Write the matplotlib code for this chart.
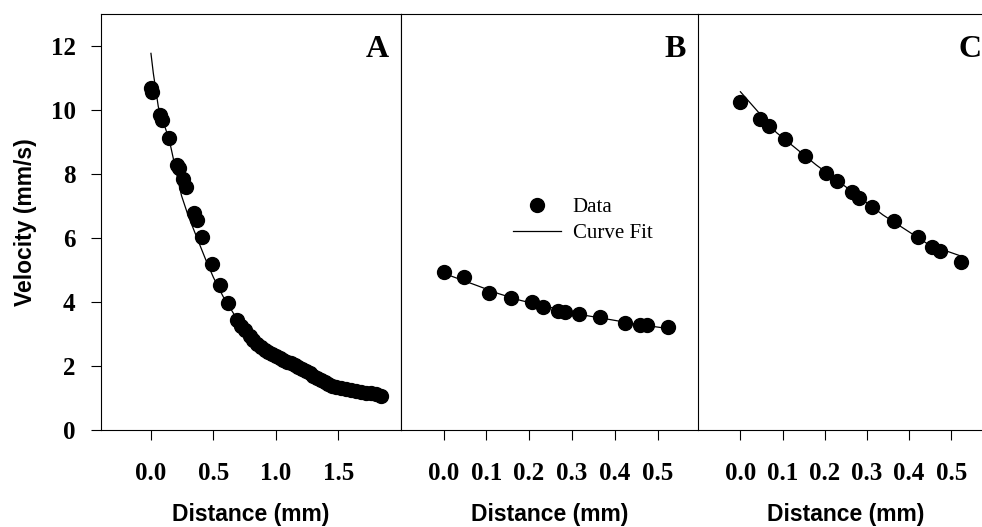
import matplotlib
matplotlib.use("Agg")
import matplotlib.pyplot as plt
from matplotlib.lines import Line2D

# ---- Panel A: velocity vs distance ----
dist_a = [0.000, 0.012, 0.072, 0.088, 0.142, 0.212, 0.224, 0.256, 0.283, 0.346, 0.368,
          0.410, 0.487, 0.552, 0.615, 0.690, 0.725, 0.757, 0.790, 0.820, 0.850, 0.880,
          0.910, 0.940, 0.970, 1.000, 1.030, 1.060, 1.090, 1.120, 1.150, 1.180, 1.210,
          1.240, 1.270, 1.300, 1.330, 1.360, 1.390, 1.420, 1.450, 1.480, 1.520, 1.560,
          1.600, 1.640, 1.680, 1.720, 1.760, 1.800, 1.845]
vel_a = [10.68, 10.55, 9.85, 9.69, 9.12, 8.28, 8.18, 7.83, 7.58, 6.77, 6.56,
         6.02, 5.20, 4.53, 3.97, 3.45, 3.25, 3.12, 2.95, 2.82, 2.70, 2.60,
         2.50, 2.43, 2.37, 2.30, 2.24, 2.19, 2.13, 2.08, 2.03, 1.98, 1.92,
         1.85, 1.78, 1.70, 1.62, 1.55, 1.49, 1.43, 1.38, 1.34, 1.30, 1.27,
         1.24, 1.21, 1.19, 1.17, 1.15, 1.12, 1.06]
fit_dist_a = [0.000, 0.019, 0.059, 0.147, 0.205, 0.245, 0.298, 0.365, 0.440, 0.500,
              0.578, 0.660, 0.740, 0.830, 0.930, 1.030, 1.120, 1.210, 1.300, 1.390,
              1.480, 1.590, 1.700, 1.800, 1.845]
fit_vel_a = [11.77, 11.15, 10.10, 9.06, 8.02, 7.32, 6.70, 6.04, 5.31, 4.77,
             4.17, 3.65, 3.15, 2.75, 2.45, 2.22, 2.06, 1.90, 1.68, 1.48,
             1.34, 1.24, 1.16, 1.11, 1.07]

# ---- Panel B ----
dist_b = [0.000, 0.048, 0.106, 0.157, 0.207, 0.233, 0.267, 0.283, 0.316, 0.365,
          0.424, 0.458, 0.476, 0.525]
vel_b = [4.95, 4.78, 4.27, 4.13, 4.00, 3.84, 3.72, 3.68, 3.63, 3.53,
         3.35, 3.29, 3.28, 3.22]
fit_dist_b = [0.000, 0.020, 0.075, 0.129, 0.180, 0.260, 0.332, 0.394, 0.450, 0.525]
fit_vel_b = [4.92, 4.80, 4.53, 4.26, 4.05, 3.80, 3.58, 3.44, 3.31, 3.17]

# ---- Panel C ----
dist_c = [0.000, 0.047, 0.067, 0.105, 0.153, 0.204, 0.230, 0.264, 0.281, 0.312,
          0.363, 0.421, 0.455, 0.474, 0.522]
vel_c = [10.26, 9.71, 9.51, 9.08, 8.56, 8.04, 7.78, 7.43, 7.26, 6.98,
         6.52, 6.04, 5.71, 5.58, 5.25]
fit_dist_c = [0.000, 0.085, 0.180, 0.260, 0.338, 0.448, 0.535]
fit_vel_c = [10.57, 9.30, 8.28, 7.50, 6.72, 5.78, 5.38]

y_ticks = [0, 2, 4, 6, 8, 10, 12]
x_ticks_a = [0.0, 0.5, 1.0, 1.5]
x_ticks_bc = [0.0, 0.1, 0.2, 0.3, 0.4, 0.5]
panel_letters = ["A", "B", "C"]

SERIF = "Liberation Serif"
SANS = "Liberation Sans"

W, H = 982, 527
fig = plt.figure(figsize=(W / 100, H / 100), dpi=100)

def frac_rect(x0, x1, ytop, ybot):
    return [x0 / W, (H - ybot) / H, (x1 - x0) / W, (ybot - ytop) / H]

ax_a = fig.add_axes(frac_rect(101, 400.7, 14, 430))
ax_b = fig.add_axes(frac_rect(400.7, 698.2, 14, 430))
ax_c = fig.add_axes(frac_rect(698.2, 993.5, 14, 430))

panels = [
    (ax_a, dist_a, vel_a, fit_dist_a, fit_vel_a, (-0.4, 2.0), x_ticks_a),
    (ax_b, dist_b, vel_b, fit_dist_b, fit_vel_b, (-0.1, 0.595), x_ticks_bc),
    (ax_c, dist_c, vel_c, fit_dist_c, fit_vel_c, (-0.1, 0.6), x_ticks_bc),
]

for (ax, xd, yd, xf, yf, xlim, xt), letter in zip(panels, panel_letters):
    ax.plot(xf, yf, color="black", linewidth=0.9, zorder=2)
    ax.plot(xd, yd, linestyle="none", marker="o", markersize=10,
            color="black", zorder=3)
    ax.set_xlim(*xlim)
    ax.set_ylim(0, 13)
    ax.set_xticks(xt)
    ax.set_xticklabels([f"{v:.1f}" for v in xt])
    ax.tick_params(axis="x", direction="out", length=7.2, width=0.8, pad=16,
                   labelsize=18)
    for lab in ax.get_xticklabels():
        lab.set_fontfamily(SERIF)
        lab.set_fontweight("bold")
    for side in ["top", "left", "right", "bottom"]:
        ax.spines[side].set_linewidth(0.8)
    ax.spines["right"].set_visible(False)
    ax.set_xlabel("Distance (mm)", fontfamily=SANS, fontweight="bold",
                  fontsize=16.5, labelpad=13)
    ax.text(0.96, 0.95, letter, transform=ax.transAxes, ha="right", va="top",
            fontfamily=SERIF, fontweight="bold", fontsize=23)

ax_a.spines["right"].set_visible(True)
ax_a.set_yticks(y_ticks)
ax_a.set_yticklabels([str(v) for v in y_ticks])
ax_a.tick_params(axis="y", direction="out", length=7.2, width=0.8, pad=11,
                 labelsize=18)
for lab in ax_a.get_yticklabels():
    lab.set_fontfamily(SERIF)
    lab.set_fontweight("bold")
ax_a.set_ylabel("Velocity (mm/s)", fontfamily=SANS, fontweight="bold",
                fontsize=16.5, labelpad=10)

for ax in (ax_b, ax_c):
    ax.set_yticks([])

handles = [
    Line2D([], [], linestyle="none", marker="o", markersize=10, color="black"),
    Line2D([], [], color="black", linewidth=0.9),
]
ax_b.legend(handles, ["Data", "Curve Fit"], loc="upper left",
            bbox_to_anchor=(0.343, 0.583), frameon=False, borderpad=0,
            handlelength=2.3, handletextpad=0.55, labelspacing=0.3,
            prop={"family": SERIF, "size": 15})

fig.savefig("out.png", dpi=100)
